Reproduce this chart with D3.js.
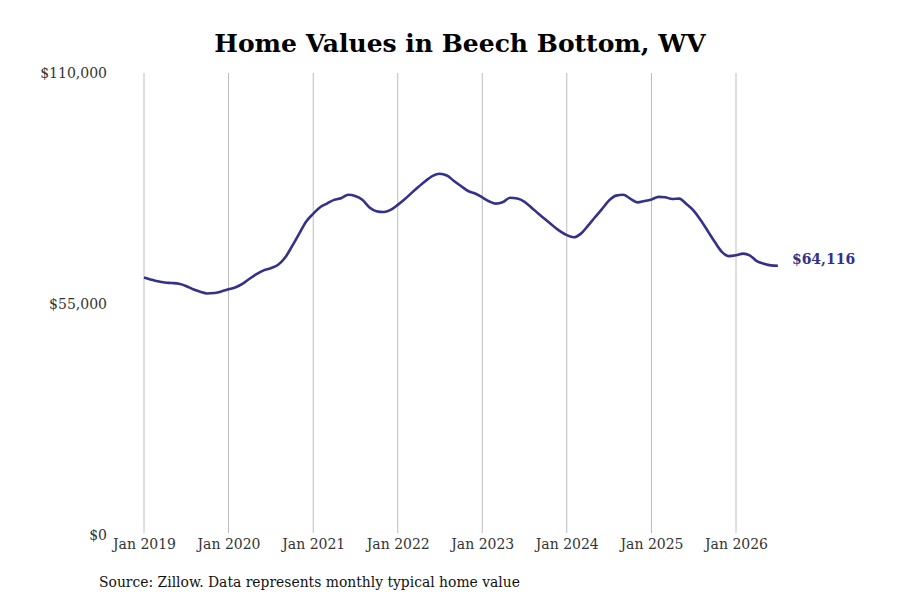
<!DOCTYPE html>
<html>
<head>
<meta charset="utf-8">
<script src="https://cdn.jsdelivr.net/npm/d3@7"></script>
<style>
  body { margin: 0; background: #fff; }
  svg text { font-family: "DejaVu Serif", serif; }
</style>
</head>
<body>
<div id="chart"></div>
<script>
// monthly typical home value, Jan 2019 .. Jul 2026 (thousands of dollars)
var startMonth = new Date(2019, 0, 1);
var values = [
  61.3, 60.8, 60.4, 60.1, 60.0, 59.8, 59.3, 58.5, 57.9, 57.5, 57.6, 58.0,
  58.5, 59.0, 59.8, 61.0, 62.1, 63.0, 63.5, 64.3, 66.0, 68.7, 71.7, 74.6,
  76.5, 78.1, 78.9, 79.8, 80.2, 81.0, 80.7, 79.8, 78.0, 77.1, 76.9, 77.4,
  78.6, 80.0, 81.4, 82.9, 84.3, 85.5, 86.0, 85.6, 84.3, 83.1, 81.9, 81.3,
  80.4, 79.4, 78.9, 79.3, 80.3, 80.1, 79.4, 78.0, 76.5, 75.1, 73.7, 72.4,
  71.4, 70.9, 71.7, 73.6, 75.6, 77.6, 79.6, 80.8, 81.0, 80.1, 79.2, 79.5,
  79.9, 80.5, 80.4, 80.0, 80.1, 78.8, 77.3, 75.0, 72.4, 69.8, 67.4, 66.4,
  66.6, 67.0, 66.6, 65.2, 64.6, 64.2, 64.116
];
var yTicks = [0, 55000, 110000];
var xTickYears = [2019, 2020, 2021, 2022, 2023, 2024, 2025, 2026];
var title = "Home Values in Beech Bottom, WV";
var source = "Source: Zillow. Data represents monthly typical home value";
var lastLabel = "$64,116";

var width = 900, height = 600;
var color = "#33318a";

var data = values.map(function(v, i) {
  return { date: d3.timeMonth.offset(startMonth, i), value: v * 1000 };
});

var svg = d3.select("#chart").append("svg")
  .attr("width", width)
  .attr("height", height);

var x = d3.scaleTime()
  .domain([new Date(2019, 0, 1), new Date(2026, 0, 1)])
  .range([144, 736]);

var y = d3.scaleLinear()
  .domain([0, 110000])
  .range([535, 73]);

// vertical gridlines at each January
var xTicks = xTickYears.map(function(yr) { return new Date(yr, 0, 1); });

svg.append("g")
  .selectAll("line")
  .data(xTicks)
  .join("line")
    .attr("x1", function(d) { return x(d); })
    .attr("x2", function(d) { return x(d); })
    .attr("y1", y(110000))
    .attr("y2", y(0) - 2)
    .attr("stroke", "#bdbdbd")
    .attr("stroke-width", 1);

var xAxis = svg.append("g")
  .attr("transform", "translate(0," + y(0) + ")")
  .call(d3.axisBottom(x).tickValues(xTicks).tickSize(0).tickPadding(4)
    .tickFormat(d3.timeFormat("Jan %Y")));
xAxis.select(".domain").remove();
xAxis.selectAll("text")
  .attr("font-family", "DejaVu Serif")
  .attr("font-size", 14)
  .attr("fill", "#333");

var yAxis = svg.append("g")
  .attr("transform", "translate(107,0)")
  .call(d3.axisLeft(y).tickValues(yTicks).tickSize(0).tickPadding(0)
    .tickFormat(function(d) { return "$" + d3.format(",")(d); }));
yAxis.select(".domain").remove();
yAxis.selectAll("text")
  .attr("font-family", "DejaVu Serif")
  .attr("font-size", 14)
  .attr("fill", "#333");

var line = d3.line()
  .curve(d3.curveMonotoneX)
  .x(function(d) { return x(d.date); })
  .y(function(d) { return y(d.value); });

svg.append("path")
  .datum(data)
  .attr("fill", "none")
  .attr("stroke", color)
  .attr("stroke-width", 2.6)
  .attr("stroke-linejoin", "round")
  .attr("d", line);

var last = data[data.length - 1];
svg.append("text")
  .attr("x", x(last.date) + 14)
  .attr("y", y(last.value) - 2)
  .attr("font-size", 14)
  .attr("font-weight", "bold")
  .attr("fill", color)
  .text(lastLabel);

svg.append("text")
  .attr("x", 460)
  .attr("y", 52)
  .attr("text-anchor", "middle")
  .attr("font-size", 25)
  .attr("font-weight", "bold")
  .attr("fill", "#000")
  .text(title);

svg.append("text")
  .attr("x", 99)
  .attr("y", 587)
  .attr("font-size", 13.9)
  .attr("fill", "#111")
  .text(source);
</script>
</body>
</html>
